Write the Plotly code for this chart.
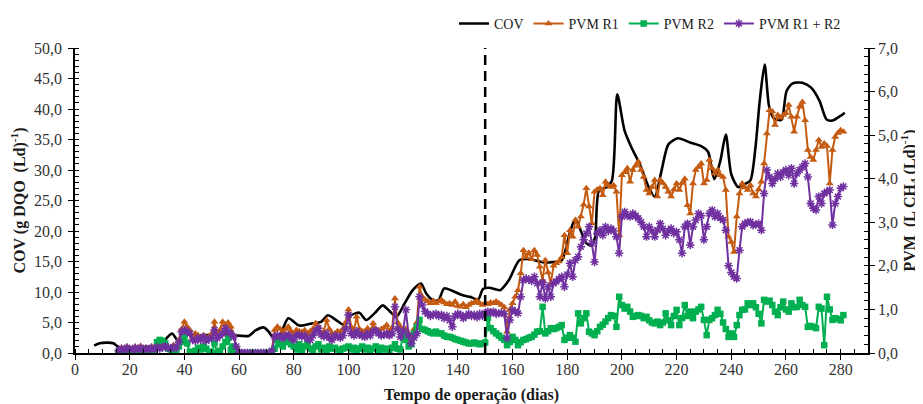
import plotly.graph_objects as go

# ---------------- data ----------------
days_pvm = list(range(16, 282))

pvm_r1 = [
    0.05, 0.12, 0.08, 0.15, 0.10, 0.08, 0.14, 0.10, 0.16, 0.08,   # 16-25
    0.12, 0.10, 0.15, 0.10, 0.18, 0.12, 0.16, 0.22, 0.15, 0.12,   # 26-35
    0.18, 0.15, 0.30, 0.55, 0.72, 0.60, 0.53, 0.34, 0.45, 0.41,   # 36-45
    0.36, 0.41, 0.34, 0.38, 0.45, 0.72, 0.45, 0.53, 0.72, 0.64,   # 46-55
    0.70, 0.60, 0.41, 0.15, 0.02, 0.00, 0.00, 0.00, 0.00, 0.00,   # 56-65
    0.00, 0.00, 0.00, 0.00, 0.00, 0.00, 0.07, 0.53, 0.60, 0.55,   # 66-75
    0.49, 0.55, 0.60, 0.50, 0.45, 0.53, 0.50, 0.48, 0.52, 0.45,   # 76-85
    0.50, 0.55, 0.68, 0.60, 0.45, 0.50, 0.76, 0.55, 0.45, 0.45,   # 86-95
    0.50, 0.49, 0.55, 0.70, 1.00, 0.60, 0.50, 0.83, 0.55, 0.50,   # 96-105
    0.50, 0.57, 0.50, 0.68, 0.55, 0.50, 0.55, 0.58, 0.64, 0.50,   # 106-115
    0.58, 1.25, 0.70, 0.60, 0.41, 0.55, 0.45, 0.40, 0.55, 0.70,   # 116-125
    1.52, 1.29, 1.22, 1.18, 1.14, 1.20, 1.14, 1.18, 1.22, 1.16,   # 126-135
    1.12, 1.14, 1.10, 1.18, 1.08, 1.06, 1.12, 1.05, 1.10, 1.14,   # 136-145
    1.16, 1.20, 1.14, 1.10, 1.14, 1.12, 1.16, 1.14, 1.18, 1.14,   # 146-155
    1.10, 1.05, 0.49, 0.99, 1.14, 1.29, 1.44, 1.83, 2.36, 2.20,   # 156-165
    2.30, 2.15, 2.36, 2.25, 1.98, 1.67, 2.13, 1.85, 1.60, 2.00,   # 166-175
    2.06, 2.10, 2.20, 2.70, 2.29, 2.82, 2.67, 3.05, 2.90, 3.13,   # 176-185
    3.40, 3.78, 3.36, 2.97, 3.70, 3.75, 3.78, 3.62, 3.93, 3.85,   # 186-195
    3.81, 3.85, 3.70, 2.70, 4.08, 4.15, 4.24, 3.93, 4.20, 4.30,   # 196-205
    4.39, 4.20, 4.04, 3.74, 3.66, 3.81, 3.97, 3.59, 3.97, 3.90,   # 206-215
    3.81, 3.70, 3.59, 3.75, 3.89, 3.74, 3.90, 4.00, 3.39, 3.20,   # 216-225
    3.89, 4.20, 4.27, 4.35, 3.89, 3.97, 4.43, 4.24, 4.12, 4.20,   # 226-235
    4.08, 4.04, 3.74, 2.67, 2.55, 2.32, 3.13, 3.66, 3.89, 3.80,   # 236-245
    3.74, 3.85, 3.66, 3.59, 3.75, 3.93, 4.35, 5.04, 5.57, 5.54,   # 246-255
    5.23, 5.46, 5.40, 5.46, 5.50, 5.69, 5.42, 5.08, 5.42, 5.65,   # 256-265
    5.76, 5.34, 4.66, 4.50, 4.43, 4.66, 4.89, 4.73, 4.81, 4.75,   # 266-275
    3.89, 4.66, 4.96, 5.05, 5.11, 5.08,                           # 276-281
]

pvm_r2 = [
    0.03, 0.05, 0.02, 0.06, 0.04, 0.02, 0.05, 0.03, 0.06, 0.04,   # 16-25
    0.05, 0.03, 0.06, 0.05, 0.25, 0.30, 0.28, 0.22, 0.10, 0.08,   # 26-35
    0.07, 0.06, 0.15, 0.26, 0.37, 0.22, 0.03, 0.00, 0.05, 0.12,   # 36-45
    0.08, 0.15, 0.10, 0.03, 0.00, 0.22, 0.00, 0.05, 0.15, 0.25,   # 46-55
    0.34, 0.07, 0.15, 0.05, 0.00, 0.00, 0.00, 0.00, 0.00, 0.00,   # 56-65
    0.00, 0.00, 0.00, 0.00, 0.00, 0.00, 0.03, 0.10, 0.30, 0.20,   # 66-75
    0.15, 0.25, 0.34, 0.20, 0.15, 0.08, 0.20, 0.05, 0.15, 0.22,   # 76-85
    0.10, 0.05, 0.15, 0.20, 0.08, 0.12, 0.05, 0.15, 0.10, 0.12,   # 86-95
    0.08, 0.05, 0.10, 0.12, 0.15, 0.08, 0.12, 0.05, 0.10, 0.15,   # 96-105
    0.08, 0.12, 0.05, 0.10, 0.15, 0.05, 0.12, 0.08, 0.10, 0.05,   # 106-115
    0.12, 0.20, 0.10, 0.08, 0.45, 0.30, 0.15, 0.20, 0.45, 0.60,   # 116-125
    0.76, 0.55, 0.53, 0.50, 0.47, 0.45, 0.49, 0.45, 0.45, 0.40,   # 126-135
    0.37, 0.37, 0.35, 0.32, 0.30, 0.28, 0.26, 0.24, 0.22, 0.22,   # 136-145
    0.24, 0.22, 0.20, 0.22, 0.24, 0.80, 0.57, 0.50, 0.45, 0.40,   # 146-155
    0.35, 0.30, 0.18, 0.25, 0.37, 0.30, 0.18, 0.25, 0.30, 0.32,   # 156-165
    0.35, 0.37, 0.42, 0.49, 0.50, 1.06, 0.45, 0.50, 0.57, 0.55,   # 166-175
    0.57, 0.60, 0.64, 0.30, 0.35, 0.41, 0.35, 0.26, 0.91, 0.68,   # 176-185
    0.80, 0.91, 0.49, 0.45, 0.41, 0.50, 0.60, 0.65, 0.72, 0.80,   # 186-195
    0.87, 0.85, 0.60, 1.29, 1.10, 1.02, 1.06, 0.95, 0.83, 0.85,   # 196-205
    0.87, 0.85, 0.80, 0.83, 0.75, 0.70, 0.68, 0.72, 0.64, 0.70,   # 206-215
    0.91, 0.75, 0.64, 0.85, 0.99, 0.64, 0.80, 1.10, 0.85, 0.95,   # 216-225
    0.80, 0.95, 1.00, 1.06, 0.76, 0.41, 0.76, 0.80, 0.87, 0.99,   # 226-235
    0.90, 0.70, 0.55, 0.37, 0.45, 0.37, 0.64, 0.87, 0.99, 1.00,   # 236-245
    1.14, 1.10, 1.14, 1.05, 0.90, 0.68, 1.22, 1.18, 1.20, 1.10,   # 246-255
    0.95, 0.87, 1.05, 1.18, 1.00, 0.95, 1.14, 1.05, 1.06, 1.22,   # 256-265
    1.10, 1.06, 0.60, 0.62, 0.60, 0.57, 1.06, 1.02, 0.18, 1.29,   # 266-275
    1.00, 0.76, 0.80, 0.78, 0.75, 0.87,                           # 276-281
]

pvm_r1r2 = [
    0.05, 0.10, 0.07, 0.12, 0.08, 0.07, 0.12, 0.08, 0.12, 0.07,   # 16-25
    0.10, 0.08, 0.12, 0.08, 0.14, 0.10, 0.13, 0.16, 0.12, 0.10,   # 26-35
    0.14, 0.12, 0.25, 0.49, 0.53, 0.50, 0.45, 0.30, 0.28, 0.35,   # 36-45
    0.30, 0.37, 0.28, 0.32, 0.35, 0.53, 0.34, 0.40, 0.45, 0.57,   # 46-55
    0.49, 0.45, 0.37, 0.15, 0.02, 0.00, 0.00, 0.00, 0.00, 0.00,   # 56-65
    0.00, 0.00, 0.00, 0.00, 0.00, 0.00, 0.05, 0.37, 0.41, 0.38,   # 66-75
    0.34, 0.40, 0.41, 0.35, 0.30, 0.40, 0.42, 0.38, 0.40, 0.33,   # 76-85
    0.30, 0.40, 0.50, 0.57, 0.42, 0.38, 0.45, 0.35, 0.30, 0.40,   # 86-95
    0.38, 0.35, 0.40, 0.55, 0.87, 0.45, 0.40, 0.50, 0.42, 0.40,   # 96-105
    0.37, 0.45, 0.40, 0.50, 0.52, 0.45, 0.40, 0.42, 0.45, 0.40,   # 106-115
    0.45, 1.06, 0.55, 0.37, 0.50, 0.99, 0.40, 0.22, 0.35, 0.45,   # 116-125
    1.29, 1.10, 0.95, 0.90, 0.85, 0.88, 0.90, 0.85, 0.88, 0.80,   # 126-135
    0.85, 0.75, 0.60, 0.85, 0.90, 0.88, 0.80, 0.85, 0.90, 0.85,   # 136-145
    0.88, 0.82, 0.90, 0.85, 0.92, 0.95, 0.92, 0.95, 0.90, 0.91,   # 146-155
    0.92, 0.90, 0.34, 0.76, 0.99, 0.95, 0.91, 1.29, 1.67, 1.71,   # 156-165
    1.68, 1.65, 1.75, 1.60, 1.29, 1.62, 1.25, 1.52, 1.29, 1.60,   # 166-175
    1.64, 1.70, 1.75, 1.52, 1.80, 2.06, 1.75, 2.13, 2.21, 2.44,   # 176-185
    2.60, 2.74, 2.90, 2.52, 2.09, 2.74, 2.82, 2.70, 2.90, 2.80,   # 186-195
    2.86, 2.80, 2.67, 2.29, 3.13, 3.24, 3.15, 3.13, 3.20, 3.15,   # 196-205
    3.09, 3.00, 2.90, 2.67, 2.90, 2.80, 2.67, 2.82, 2.97, 2.85,   # 206-215
    2.70, 2.80, 2.86, 2.75, 2.78, 2.60, 2.29, 2.90, 2.97, 2.48,   # 216-225
    2.90, 3.05, 3.20, 3.15, 2.60, 2.90, 3.20, 3.28, 3.13, 3.20,   # 226-235
    3.10, 3.05, 2.82, 2.00, 1.85, 1.75, 1.71, 2.36, 2.90, 2.97,   # 236-245
    3.00, 3.01, 2.93, 2.95, 2.97, 2.82, 3.66, 4.20, 4.04, 3.89,   # 246-255
    4.00, 4.12, 4.04, 4.15, 4.20, 4.08, 4.24, 3.89, 4.12, 4.20,   # 256-265
    4.27, 4.35, 4.04, 3.43, 3.32, 3.28, 3.59, 3.43, 3.66, 3.70,   # 266-275
    3.74, 2.94, 3.43, 3.59, 3.78, 3.82,                           # 276-281
]

cov_days = [7, 9, 12, 14, 16, 20, 25, 30, 33, 35.5, 38, 41, 45, 50, 55, 58, 61, 63.5,
            66, 69, 71, 72.5, 75, 78, 82, 86, 90, 92.5, 95.5, 98, 101, 104, 106.5,
            109.5, 112.5, 115, 117.5, 120.5, 123.5, 126.5, 128.5, 131, 133, 135, 138,
            141.5, 144.5, 147.5, 149.2, 151.5, 155.5, 158.6, 162.5, 166, 171, 174.5,
            178, 181, 183, 185, 187, 189, 190.2, 191.6, 194, 196.3, 198.3, 201, 203.5,
            206.6, 209.5, 212, 214.5, 217, 220.5, 225, 229, 231.5, 233.8, 236, 238,
            240, 242.5, 245, 247, 248.8, 250.4, 252.2, 253.8, 255.5, 258.3, 260.2,
            262.5, 266, 269.2, 272.3, 274.8, 277, 280, 281.5]
cov_values = [1.2, 1.6, 1.7, 1.6, 1.0, 0.9, 1.0, 1.1, 2.2, 3.2, 1.8, 3.0, 2.9, 3.0, 3.2, 2.9,
              2.8, 2.8, 3.7, 4.2, 3.4, 2.5, 3.0, 5.7, 4.5, 4.8, 5.1, 6.2, 5.4, 4.7, 6.2,
              6.6, 5.4, 6.5, 7.8, 6.9, 5.9, 8.1, 10.3, 11.4, 9.7, 8.6, 8.7, 10.6, 10.2,
              9.5, 9.2, 8.8, 10.5, 10.7, 10.3, 11.9, 15.2, 15.4, 14.9, 14.9, 15.2, 19.8,
              22.0, 20.0, 18.0, 17.6, 19.0, 26.6, 27.1, 28.2, 42.4, 36.4, 33.7, 30.9,
              27.5, 25.6, 29.9, 34.2, 35.2, 34.5, 33.9, 33.0, 28.5, 31.5, 35.8, 29.3,
              27.2, 27.7, 28.3, 33.5, 41.3, 47.3, 40.5, 38.5, 38.2, 42.9, 44.2, 44.3,
              43.5, 41.3, 38.3, 38.1, 38.9, 39.4]

PHASE_CHANGE_DAY = 150

x_ticks_major = 20
cov_range = [0, 50]
pvm_range = [0, 7]
day_range = [0, 290]

assert len(pvm_r1) == len(days_pvm) == len(pvm_r2) == len(pvm_r1r2)
assert len(cov_days) == len(cov_values)

# ---------------- figure ----------------
FONT = "Liberation Serif"
ORANGE = "#C55A11"
GREEN = "#00B050"
PURPLE = "#7030A0"

fig = go.Figure()
fig.add_trace(go.Scatter(
    x=cov_days, y=cov_values, name="COV", mode="lines",
    line=dict(color="black", width=2.6, shape="spline", smoothing=0.7),
    yaxis="y"))
fig.add_trace(go.Scatter(
    x=days_pvm, y=pvm_r1, name="PVM R1", mode="lines+markers",
    line=dict(color=ORANGE, width=2),
    marker=dict(symbol="triangle-up", size=7, color=ORANGE),
    yaxis="y2"))
fig.add_trace(go.Scatter(
    x=days_pvm, y=pvm_r2, name="PVM R2", mode="lines+markers",
    line=dict(color=GREEN, width=2),
    marker=dict(symbol="square", size=6.5, color=GREEN),
    yaxis="y2"))
fig.add_trace(go.Scatter(
    x=days_pvm, y=pvm_r1r2, name="PVM R1 + R2", mode="lines+markers",
    line=dict(color=PURPLE, width=2),
    marker=dict(symbol="asterisk-open", size=7, color=PURPLE,
                line=dict(color=PURPLE, width=1.5)),
    yaxis="y2"))

fig.add_shape(type="line", xref="x", yref="paper",
              x0=PHASE_CHANGE_DAY, x1=PHASE_CHANGE_DAY, y0=0, y1=1,
              line=dict(color="black", width=2.5, dash="10px,6px"))

tickfont = dict(family=FONT, size=16, color="#333333")
titlefont = dict(family=FONT, size=16, color="#1a1a1a", weight="bold")

common = dict(showline=True, linecolor="black", linewidth=1.5, showgrid=False,
              zeroline=False, ticks="outside", ticklen=5, tickwidth=1.3,
              tickcolor="black", tickfont=tickfont, automargin=False)

# inner half of the crossing major ticks (tick-only overlay axes)
inner = dict(showline=False, showgrid=False, zeroline=False, showticklabels=False,
             ticks="inside", ticklen=5, tickwidth=1.3, tickcolor="black",
             automargin=False)

# page body adds an 8 px offset, so the figure is 8 px smaller than the window
fig.update_layout(
    width=915, height=396,
    margin=dict(l=67, r=55, t=40, b=51, autoexpand=False),
    paper_bgcolor="white", plot_bgcolor="white",
    separators=", ",
    showlegend=True,
    legend=dict(orientation="h", xref="container", yref="container",
                x=0.4874, xanchor="left", y=0.96, yanchor="middle",
                font=dict(family=FONT, size=14, color="#1a1a1a"),
                bgcolor="rgba(0,0,0,0)", tracegroupgap=0, itemwidth=30),
    xaxis=dict(range=day_range, dtick=x_ticks_major, tick0=0,
               ticklabelstandoff=-4,
               minor=dict(dtick=5, ticks="inside", ticklen=4, tickcolor="black", tickwidth=1),
               title=dict(text="Tempo de operação (dias)", font=titlefont, standoff=14),
               **common),
    yaxis=dict(range=cov_range, dtick=5, tick0=0, tickformat=".1f",
               ticklabelstandoff=3,
               minor=dict(dtick=1, ticks="inside", ticklen=4, tickcolor="black", tickwidth=1),
               title=dict(text="COV (g DQO  (Ld)<sup>-1</sup>)", font=titlefont, standoff=8),
               **common),
    yaxis2=dict(range=pvm_range, dtick=1, tick0=0, tickformat=".1f",
                overlaying="y", side="right", anchor="x",
                minor=dict(dtick=0.2, ticks="inside", ticklen=4, tickcolor="black", tickwidth=1),
                title=dict(text="PVM  (L CH<sub>4</sub> (Ld)<sup>-1</sup>)", font=titlefont, standoff=0),
                **common),
    xaxis2=dict(range=day_range, dtick=x_ticks_major, tick0=0, overlaying="x",
                side="bottom", anchor="y", **inner),
    yaxis3=dict(range=cov_range, dtick=5, tick0=0, overlaying="y", side="left",
                anchor="x", **inner),
    yaxis4=dict(range=pvm_range, dtick=1, tick0=0, overlaying="y", side="right",
                anchor="x", **inner),
)

fig.write_html("out.html")
